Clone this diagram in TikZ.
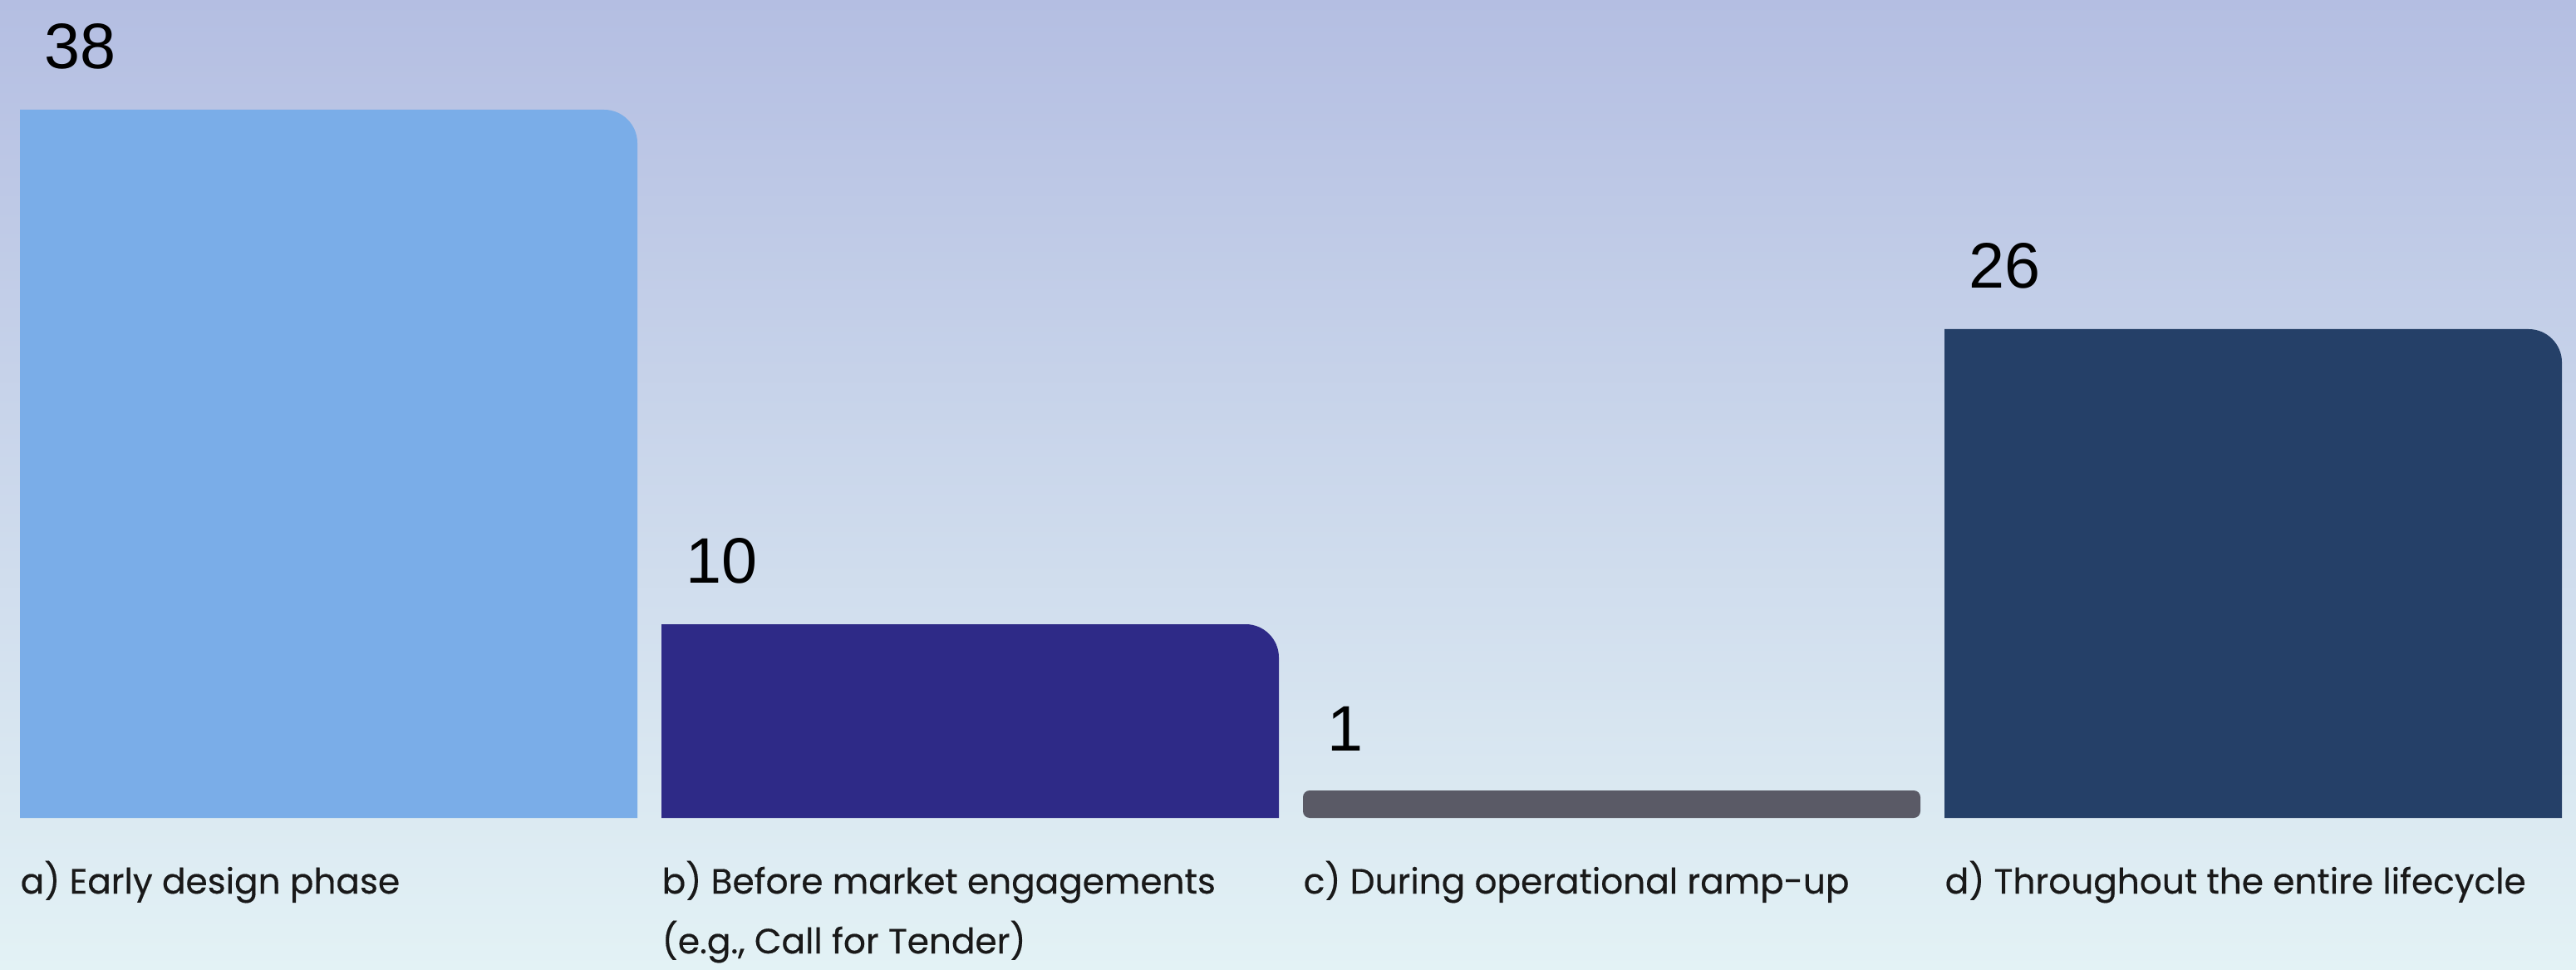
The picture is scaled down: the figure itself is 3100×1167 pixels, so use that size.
\documentclass[tikz,border=0pt]{standalone}
\usepackage{fontspec}
\setmainfont{Liberation Sans}
\newfontfamily\lblfont[FakeBold=0.4]{Poppins}
\newfontfamily\numfont{Liberation Sans}
\definecolor{bgtop}{HTML}{B4BEE2}
\definecolor{bgmid}{HTML}{C9D9EC}
\definecolor{bgbot}{HTML}{E3F2F5}
\definecolor{colA}{HTML}{7AADE8}
\definecolor{colB}{HTML}{2E2A87}
\definecolor{colC}{HTML}{5A5A66}
\definecolor{colD}{HTML}{254068}
\tikzset{
  numlabel/.style={anchor=base west, inner sep=0pt, font=\numfont\fontsize{22}{26}\selectfont, text=black},
  catlabel/.style={anchor=base west, inner sep=0pt, font=\lblfont\fontsize{12}{20}\selectfont, text=black!90},
}
\begin{document}
\begin{tikzpicture}[x=0.01cm,y=-0.01cm]
\useasboundingbox (0,0) rectangle (3100,1167);
\shade[top color=bgtop, middle color=bgmid, bottom color=bgbot] (0,0) rectangle (3100,1167);
% bars
\fill[colA] (24,984) -- (24,132) -- (727,132) .. controls (749,132) and (767,150) .. (767,172) -- (767,984) -- cycle;
\fill[colB] (796,984) -- (796,751) -- (1499,751) .. controls (1521,751) and (1539,769) .. (1539,791) -- (1539,984) -- cycle;
\fill[colC, rounded corners=0.08cm] (1568,951) rectangle (2311,984);
\fill[colD] (2340,984) -- (2340,396) -- (3043,396) .. controls (3065,396) and (3083,414) .. (3083,436) -- (3083,984) -- cycle;
\coordinate (topA) at (24,132);
\coordinate (topB) at (796,751);
\coordinate (topC) at (1568,951);
\coordinate (topD) at (2340,396);
% values
\node[numlabel] (vA) at ([xshift=0.29cm,yshift=0.49cm]topA) {38};
\node[numlabel] (vB) at ([xshift=0.29cm,yshift=0.49cm]topB) {10};
\node[numlabel] (vC) at ([xshift=0.29cm,yshift=0.47cm]topC) {1};
\node[numlabel] (vD) at ([xshift=0.29cm,yshift=0.49cm]topD) {26};
% categories
\node[catlabel] (lA) at (24,1075) {a) Early design phase};
\node[catlabel] (lB) at (796,1075) {b) Before market engagements};
\node[catlabel] (lB2) at (796,1147) {(e.g., Call for Tender)};
\node[catlabel] (lC) at (1568,1075) {c) During operational ramp-up};
\node[catlabel] (lD) at (2340,1075) {d) Throughout the entire lifecycle};
\end{tikzpicture}
\end{document}
